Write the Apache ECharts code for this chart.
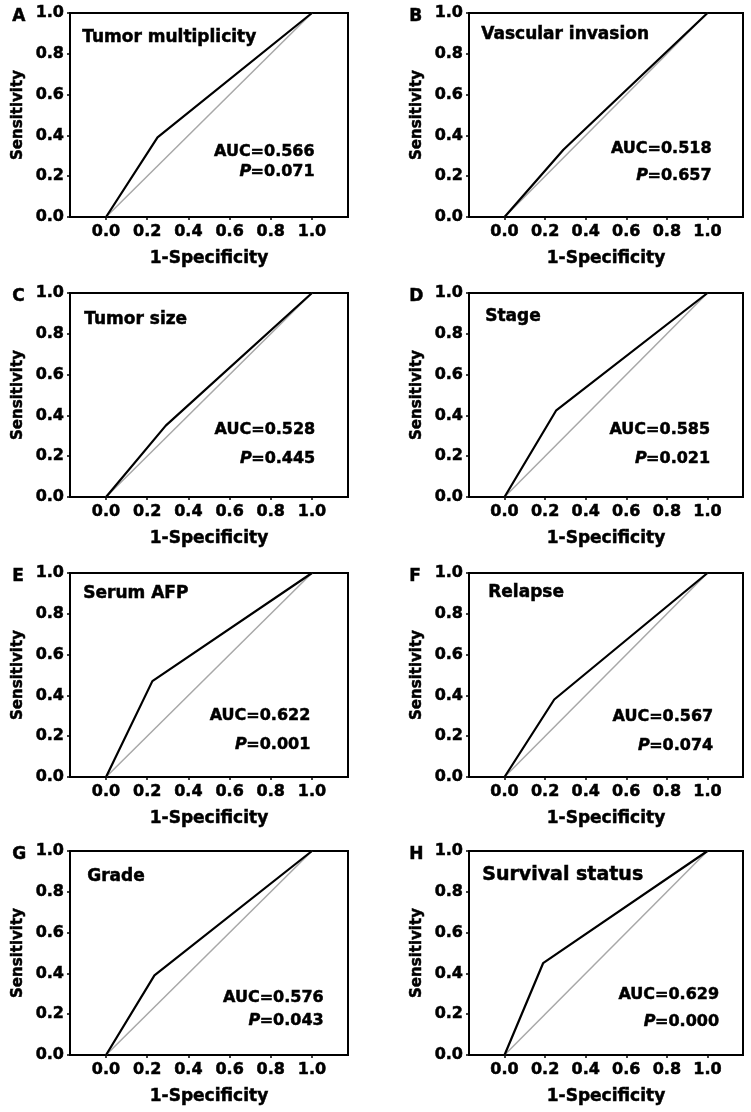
<!DOCTYPE html>
<html>
<head>
<meta charset="utf-8">
<script src="https://cdn.jsdelivr.net/npm/echarts@6/dist/echarts.min.js"></script>
<style>
html,body{margin:0;padding:0;background:#fff;}
#chart{width:751px;height:1112px;}
</style>
</head>
<body>
<div id="chart"></div>
<script>
// ---- data ----
const panelLetters = ['A','B','C','D','E','F','G','H'];
const panelTitles = ['Tumor multiplicity','Vascular invasion','Tumor size','Stage','Serum AFP','Relapse','Grade','Survival status'];
const rocA = [[0,0],[0.25,0.39],[1,1]];
const rocB = [[0,0],[0.29,0.33],[1,1]];
const rocC = [[0,0],[0.29,0.35],[1,1]];
const rocD = [[0,0],[0.255,0.425],[1,1]];
const rocE = [[0,0],[0.225,0.47],[1,1]];
const rocF = [[0,0],[0.245,0.38],[1,1]];
const rocG = [[0,0],[0.235,0.39],[1,1]];
const rocH = [[0,0],[0.19,0.45],[1,1]];
const rocCurves = [rocA,rocB,rocC,rocD,rocE,rocF,rocG,rocH];
const referenceLine = [[0,0],[1,1]];
const aucValues = ['0.566','0.518','0.528','0.585','0.622','0.567','0.576','0.629'];
const pValues = ['0.071','0.657','0.445','0.021','0.001','0.074','0.043','0.000'];
const xTicks = [0,0.2,0.4,0.6,0.8,1.0];
const xAxisName = '1-Specificity';
const yAxisName = 'Sensitivity';

// ---- layout (positions / styles) ----
const FONT = 'DejaVu Sans';
const HEAVY = {textBorderColor:'#000', textBorderWidth:0.5};
const rowTops = [13, 293, 573, 851];
const gridH = 204;
const colLeft = [70, 469];
const colWidth = [278, 274];
const letterX = [12, 409];
// annotation anchor (data coords): right edge x, AUC y, P y
const annot = [
  [1.013,0.318,0.219],[1.020,0.334,0.203],
  [1.016,0.327,0.185],[1.013,0.330,0.187],
  [0.992,0.298,0.159],[1.028,0.293,0.154],
  [1.057,0.282,0.165],[1.057,0.295,0.163]
];
// title offsets from grid (px): dx, dy(center), fontSize
const titleOff = [
  [12,26,17],[12,23,17],[14,28,17],[16,25,17],
  [13,22,17],[19,21,17],[17,27,17],[13,26,19]
];

const grids=[], xAxes=[], yAxes=[], series=[], graphics=[];
for (let i=0;i<8;i++){
  const col=i%2, row=Math.floor(i/2);
  const left=colLeft[col], top=rowTops[row], width=colWidth[col];
  grids.push({left:left, top:top, width:width, height:gridH, show:true,
    borderColor:'#000', borderWidth:2, backgroundColor:'#fff', containLabel:false});
  xAxes.push({gridIndex:i, type:'value', min:-0.175, max:1.175,
    name:xAxisName, nameLocation:'middle', nameGap:33,
    nameTextStyle:Object.assign({fontFamily:FONT, fontWeight:'bold', fontSize:17, color:'#000'}, HEAVY),
    axisLine:{show:true, onZero:false, lineStyle:{color:'#000', width:2}},
    axisTick:{show:true, length:3, customValues:xTicks, lineStyle:{color:'#000', width:1.5}},
    axisLabel:Object.assign({show:true, customValues:xTicks, margin:7, fontFamily:FONT, fontWeight:'bold', fontSize:16, color:'#000',
      formatter:v=>Number(v).toFixed(1)}, HEAVY),
    splitLine:{show:false}});
  yAxes.push({gridIndex:i, type:'value', min:0, max:1, interval:0.2,
    name:yAxisName, nameLocation:'middle', nameGap:44,
    nameTextStyle:Object.assign({fontFamily:FONT, fontWeight:'bold', fontSize:15, color:'#000'}, HEAVY),
    axisLine:{show:true, onZero:false, lineStyle:{color:'#000', width:2}},
    axisTick:{show:true, length:3, lineStyle:{color:'#000', width:1.5}},
    axisLabel:Object.assign({show:true, margin:6, fontFamily:FONT, fontWeight:'bold', fontSize:16, color:'#000',
      formatter:v=>Number(v).toFixed(1)}, HEAVY),
    splitLine:{show:false}});
  series.push({type:'line', xAxisIndex:i, yAxisIndex:i, data:referenceLine, symbol:'none',
    lineStyle:{color:'#a8a8a8', width:1.5}, silent:true, z:2});
  series.push({type:'line', xAxisIndex:i, yAxisIndex:i, data:rocCurves[i], symbol:'none',
    lineStyle:{color:'#000', width:2.2}, silent:true, z:3});
  const t=titleOff[i];
  graphics.push({type:'text', left:left+t[0], top:top+t[1]-t[2]*0.6, z:10,
    style:{text:panelTitles[i], fontFamily:FONT, fontWeight:'bold', fontSize:t[2], fill:'#000', stroke:'#000', lineWidth:0.5}});
  graphics.push({type:'text', left:letterX[col], top:top+5-10, z:10,
    style:{text:panelLetters[i], fontFamily:FONT, fontWeight:'bold', fontSize:17, fill:'#000', stroke:'#000', lineWidth:0.5}});
}

const chart = echarts.init(document.getElementById('chart'), null, {renderer:'canvas'});
chart.setOption({
  animation:false,
  backgroundColor:'#fff',
  grid:grids, xAxis:xAxes, yAxis:yAxes, series:series, graphic:graphics
});

// AUC / P annotations placed through each panel's own scales
const mctx = document.createElement('canvas').getContext('2d');
mctx.font = 'bold 16px "' + FONT + '"';
const annGraphics = [];
const base = {fontFamily:FONT, fontWeight:'bold', fontSize:16, fill:'#000', stroke:'#000', lineWidth:0.5,
  align:'right', verticalAlign:'middle'};
for (let i=0;i<8;i++){
  const a=annot[i];
  const p1 = chart.convertToPixel({gridIndex:i}, [a[0],a[1]]);
  const p2 = chart.convertToPixel({gridIndex:i}, [a[0],a[2]]);
  const rest = '=' + pValues[i];
  const w = mctx.measureText(rest).width;
  annGraphics.push({type:'text', x:p1[0], y:p1[1], z:10,
    style:Object.assign({text:'AUC='+aucValues[i]}, base)});
  annGraphics.push({type:'text', x:p2[0], y:p2[1], z:10,
    style:Object.assign({text:rest}, base)});
  annGraphics.push({type:'text', x:p2[0]-w+0.5, y:p2[1], z:10,
    style:Object.assign({text:'P', fontStyle:'italic'}, base)});
}
chart.setOption({graphic: graphics.concat(annGraphics)});
</script>
</body>
</html>
